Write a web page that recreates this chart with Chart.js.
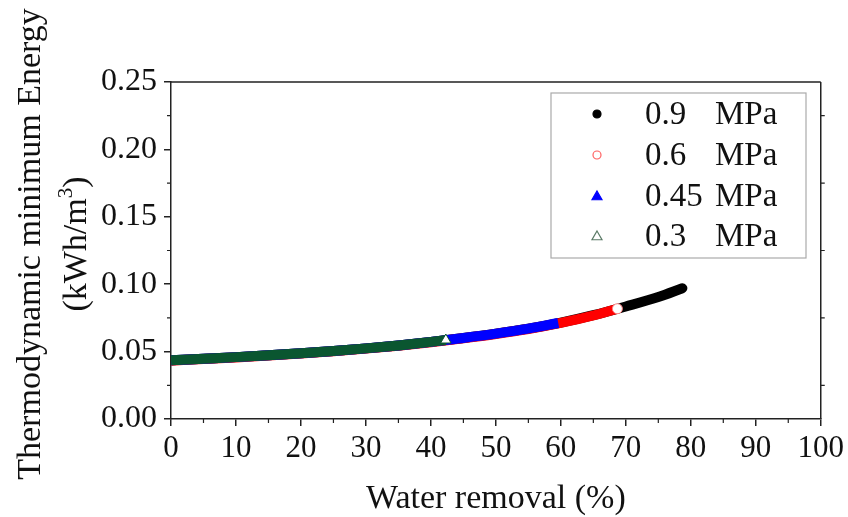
<!DOCTYPE html>
<html>
<head>
<meta charset="utf-8">
<script src="https://cdn.jsdelivr.net/npm/chart.js@4.4.1/dist/chart.umd.min.js"></script>
<style>
  html, body { margin: 0; padding: 0; background: #fff; }
  #wrap { width: 848px; height: 517px; }
</style>
</head>
<body>
<div id="wrap"><canvas id="energyChart" width="848" height="517"></canvas></div>
<script>
// Datos (Water removal % vs energía mínima kWh/m3)
const removal09 = [0, 5, 10, 15, 20, 25, 30, 35, 40, 45, 50, 55, 60, 65, 70, 75, 78.7];
const energy09  = [0.0435, 0.0447, 0.0459, 0.0473, 0.0488, 0.0505, 0.0524, 0.0546, 0.0572, 0.0601, 0.0633, 0.0670, 0.0715, 0.0770, 0.0835, 0.0905, 0.0970];

const removal06 = [0, 5, 10, 15, 20, 25, 30, 35, 40, 45, 50, 55, 60, 65, 68.7];
const energy06  = [0.0433, 0.0445, 0.0457, 0.0471, 0.0486, 0.0503, 0.0522, 0.0544, 0.0570, 0.0599, 0.0631, 0.0668, 0.0713, 0.0768, 0.0818];

const removal045 = [0, 5, 10, 15, 20, 25, 30, 35, 40, 45, 50, 55, 59.6];
const energy045  = [0.0435, 0.0447, 0.0459, 0.0473, 0.0488, 0.0505, 0.0524, 0.0546, 0.0572, 0.0601, 0.0633, 0.0670, 0.0712];

const removal03 = [0, 5, 10, 15, 20, 25, 30, 35, 40, 42.3];
const energy03  = [0.0435, 0.0447, 0.0459, 0.0473, 0.0488, 0.0505, 0.0524, 0.0546, 0.0572, 0.0586];

const pressureLabels = ['0.9', '0.6', '0.45', '0.3'];
const unitLabel = 'MPa';
const xTicksMajor = 10, yTicksMajor = 0.05;

const SERIF = "'Liberation Serif', 'Times New Roman', serif";

function toPoints(xs, ys) {
    return xs.map((x, i) => ({ x: x, y: ys[i] }));
}

// solo el último punto lleva marcador visible
function lastOnly(r) {
    return (ctx) => ctx.dataIndex === ctx.dataset.data.length - 1 ? r : 0;
}

// Leyenda con borde, ejes secundarios y ticks menores
const framePlugin = {
    id: 'framePlugin',
    afterDraw(chart) {
        const { ctx, chartArea: a, scales } = chart;
        const xs = scales.x, ys = scales.y;
        ctx.save();
        ctx.strokeStyle = '#222';
        ctx.lineWidth = 1.5;
        // marco superior y derecho
        ctx.beginPath();
        ctx.moveTo(a.left, a.top); ctx.lineTo(a.right, a.top);
        ctx.moveTo(a.right, a.top); ctx.lineTo(a.right, a.bottom);
        ctx.stroke();
        // ticks menores
        ctx.lineWidth = 1.2;
        ctx.beginPath();
        for (let v = 5; v < 100; v += 10) {
            const px = xs.getPixelForValue(v);
            ctx.moveTo(px, a.bottom); ctx.lineTo(px, a.bottom + 4);
        }
        for (let v = 0.025; v < 0.25; v += 0.05) {
            const py = ys.getPixelForValue(v);
            ctx.moveTo(a.left - 4, py); ctx.lineTo(a.left, py);
            ctx.moveTo(a.right, py); ctx.lineTo(a.right + 4, py);
        }
        ctx.stroke();

        // títulos de ejes
        ctx.fillStyle = '#111';
        ctx.font = '34px ' + SERIF;
        ctx.textAlign = 'center';
        ctx.textBaseline = 'alphabetic';
        ctx.fillText('Water removal (%)', (a.left + a.right) / 2, 508);

        ctx.save();
        ctx.rotate(-Math.PI / 2);
        const cy = -244;
        ctx.fillText('Thermodynamic minimum Energy', cy, 40);
        // segunda línea con superíndice
        const p1 = '(kWh/m', sup = '3', p2 = ')';
        ctx.font = '34px ' + SERIF;
        const w1 = ctx.measureText(p1).width, w3 = ctx.measureText(p2).width;
        ctx.font = '21px ' + SERIF;
        const w2 = ctx.measureText(sup).width;
        let sx = cy - (w1 + w2 + w3) / 2;
        ctx.textAlign = 'left';
        ctx.font = '34px ' + SERIF;
        ctx.fillText(p1, sx, 86);
        ctx.font = '21px ' + SERIF;
        ctx.fillText(sup, sx + w1, 72);
        ctx.font = '34px ' + SERIF;
        ctx.fillText(p2, sx + w1 + w2, 86);
        ctx.restore();

        // leyenda
        const box = { l: 551, t: 93, r: 806, b: 258 };
        ctx.strokeStyle = '#aaa';
        ctx.lineWidth = 1.2;
        ctx.strokeRect(box.l, box.t, box.r - box.l, box.b - box.t);
        const rowsY = [114, 155, 196, 236];
        const styles = [
            { shape: 'circle', fill: '#000', stroke: '#000', r: 4 },
            { shape: 'circle', fill: '#fff', stroke: '#ff6060', r: 4 },
            { shape: 'tri', fill: '#0000ff', stroke: '#0000ff', r: 5 },
            { shape: 'tri', fill: '#fff', stroke: '#5a7a66', r: 5 }
        ];
        pressureLabels.forEach((lab, i) => {
            const y = rowsY[i], mx = 597, st = styles[i];
            ctx.fillStyle = st.fill; ctx.strokeStyle = st.stroke; ctx.lineWidth = 1.2;
            ctx.beginPath();
            if (st.shape === 'circle') {
                ctx.arc(mx, y, st.r, 0, Math.PI * 2);
            } else {
                ctx.moveTo(mx, y - st.r); ctx.lineTo(mx + st.r, y + st.r * 0.75); ctx.lineTo(mx - st.r, y + st.r * 0.75); ctx.closePath();
            }
            ctx.fill(); ctx.stroke();
            ctx.fillStyle = '#111';
            ctx.font = '33px ' + SERIF;
            ctx.textAlign = 'left';
            ctx.textBaseline = 'middle';
            ctx.fillText(lab, 645, y + 1);
            ctx.fillText(unitLabel, 715, y + 1);
        });
        ctx.restore();
    }
};

const ctx = document.getElementById('energyChart').getContext('2d');
const energyChart = new Chart(ctx, {
    type: 'scatter',
    data: {
        datasets: [
            {
                label: pressureLabels[3] + ' ' + unitLabel,
                data: toPoints(removal03, energy03),
                showLine: true,
                borderColor: '#0a5630',
                backgroundColor: '#fff',
                borderWidth: 10,
                pointStyle: 'triangle',
                pointRadius: lastOnly(6),
                pointBorderWidth: 1,
                pointBorderColor: '#0a5630',
                pointBackgroundColor: '#fff',
                borderCapStyle: 'butt'
            },
            {
                label: pressureLabels[2] + ' ' + unitLabel,
                data: toPoints(removal045, energy045),
                showLine: true,
                borderColor: '#0000ff',
                backgroundColor: '#0000ff',
                borderWidth: 10,
                pointRadius: 0,
                borderCapStyle: 'butt'
            },
            {
                label: pressureLabels[1] + ' ' + unitLabel,
                data: toPoints(removal06, energy06),
                showLine: true,
                borderColor: '#ff0000',
                backgroundColor: '#fff',
                borderWidth: 10,
                pointStyle: 'circle',
                pointRadius: lastOnly(5),
                pointBorderWidth: 1,
                pointBorderColor: '#ff8080',
                pointBackgroundColor: '#fff',
                borderCapStyle: 'butt'
            },
            {
                label: pressureLabels[0] + ' ' + unitLabel,
                data: toPoints(removal09, energy09),
                showLine: true,
                borderColor: '#000',
                backgroundColor: '#000',
                borderWidth: 10,
                pointRadius: 0,
                borderCapStyle: 'round',
                clip: { left: 0, top: 10, right: 10, bottom: 10 }
            }
        ]
    },
    options: {
        responsive: false,
        animation: false,
        layout: { padding: { top: 82, right: 27, left: 0, bottom: 0 } },
        plugins: {
            legend: { display: false },
            tooltip: { enabled: false }
        },
        elements: { line: { cubicInterpolationMode: 'monotone' } },
        scales: {
            x: {
                type: 'linear',
                min: 0, max: 100,
                afterFit: (s) => { s.height = 98; },
                border: { display: true, color: '#222', width: 1.5 },
                grid: { drawOnChartArea: false, drawTicks: true, tickLength: 7, color: '#222', lineWidth: 1.5 },
                ticks: {
                    stepSize: xTicksMajor,
                    color: '#111',
                    padding: 4,
                    maxRotation: 0,
                    font: { family: SERIF, size: 31 }
                }
            },
            y: {
                type: 'linear',
                min: 0, max: 0.25,
                afterFit: (s) => { s.width = 171; },
                border: { display: true, color: '#222', width: 1.5 },
                grid: { drawOnChartArea: false, drawTicks: true, tickLength: 7, color: '#222', lineWidth: 1.5 },
                ticks: {
                    stepSize: yTicksMajor,
                    color: '#111',
                    padding: 7,
                    font: { family: SERIF, size: 32 },
                    callback: (v) => v.toFixed(2)
                }
            }
        }
    },
    plugins: [framePlugin]
});
</script>
</body>
</html>
